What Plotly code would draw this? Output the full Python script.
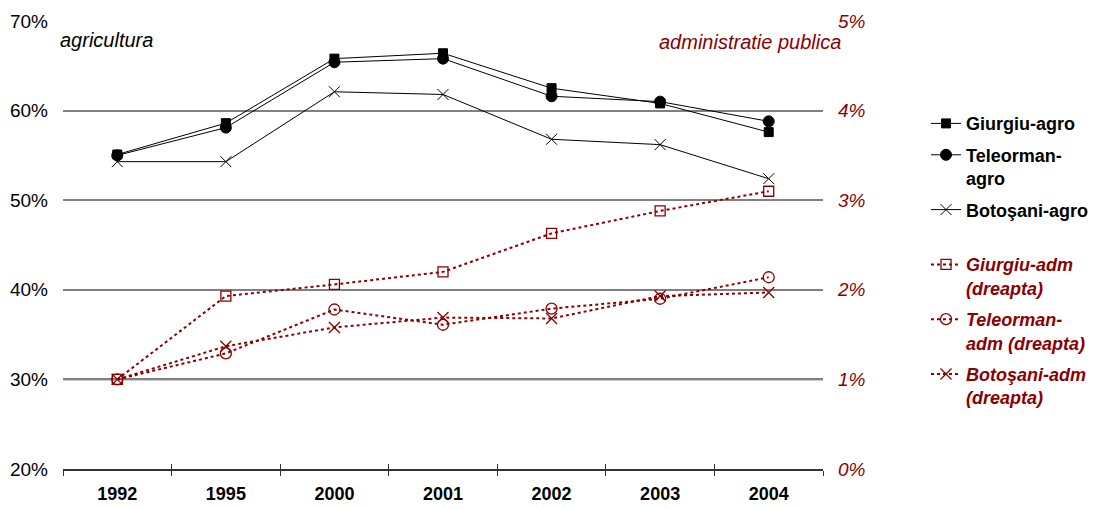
import plotly.graph_objects as go

years = ["1992", "1995", "2000", "2001", "2002", "2003", "2004"]

giurgiu_agro = [55.1, 58.6, 65.8, 66.4, 62.5, 60.8, 57.6]
teleorman_agro = [55.0, 58.1, 65.4, 65.8, 61.6, 61.0, 58.8]
botosani_agro = [54.3, 54.3, 62.1, 61.8, 56.8, 56.2, 52.4]

giurgiu_adm = [1.0, 1.93, 2.06, 2.20, 2.63, 2.88, 3.10]
teleorman_adm = [1.0, 1.29, 1.78, 1.61, 1.79, 1.90, 2.14]
botosani_adm = [1.0, 1.37, 1.58, 1.69, 1.68, 1.93, 1.97]

left_ticks = [20, 30, 40, 50, 60, 70]
left_labels = ["20%", "30%", "40%", "50%", "60%", "70%"]
right_ticks = [0, 1, 2, 3, 4, 5]
right_labels = ["0%", "1%", "2%", "3%", "4%", "5%"]

DR = "#8B0000"
FONT = "Liberation Sans, Arial, sans-serif"

fig = go.Figure()

agro = [
    ("<b>Giurgiu-agro</b>", giurgiu_agro, "square", 9, "g1"),
    ("<b>Teleorman-<br>agro</b>", teleorman_agro, "circle", 11, "g2"),
    ("<b>Botoşani-agro</b><br> ", botosani_agro, "x-thin-open", 11, "g3"),
]
for name, vals, sym, sz, grp in agro:
    fig.add_trace(go.Scatter(
        x=years, y=vals, name=name, mode="lines+markers", legendgroup=grp,
        line=dict(color="black", width=1),
        marker=dict(symbol=sym, size=sz, color="black", line=dict(color="black", width=1)),
        xaxis="x", yaxis="y",
    ))

adm = [
    ("Giurgiu-adm<br>(dreapta)", giurgiu_adm, "square-open", 10, "g4"),
    ("Teleorman-<br>adm (dreapta)", teleorman_adm, "circle-open", 11, "g5"),
    ("Botoşani-adm<br>(dreapta)", botosani_adm, "x-thin-open", 11, "g6"),
]
for name, vals, sym, sz, grp in adm:
    label = "<b><i><span style='color:%s'>%s</span></i></b>" % (
        DR, name.replace("<br>", "</span><br><span style='color:%s'>" % DR))
    fig.add_trace(go.Scatter(
        x=years, y=vals, name=label,
        mode="lines+markers", legendgroup=grp,
        line=dict(color=DR, width=2, dash="dot"),
        marker=dict(symbol=sym, size=sz, color=DR, line=dict(color=DR, width=1.3)),
        xaxis="x2", yaxis="y2",
    ))

# the page body adds an 8px offset, so the figure is 8px smaller and margins shifted
fig.update_layout(
    width=1090, height=501,
    margin=dict(l=55, r=275, t=13, b=40, autoexpand=False),
    paper_bgcolor="white", plot_bgcolor="white",
    font=dict(family=FONT, color="black", size=18),
    showlegend=True,
    legend=dict(
        xref="container", yref="container",
        x=0.8422, xanchor="left",
        y=0.806, yanchor="top",
        font=dict(size=18, family=FONT, color="black"),
        valign="top", tracegroupgap=5, maxheight=460,
        bgcolor="rgba(0,0,0,0)",
    ),
    xaxis=dict(
        type="category", categoryarray=years, categoryorder="array",
        showgrid=False, showline=True, linecolor="#333333", linewidth=1.5,
        ticks="outside", ticklen=5, tickcolor="#333333", tickwidth=1,
        tickson="boundaries",
        tickfont=dict(size=18, family=FONT, weight="bold"),
        ticklabelstandoff=8, automargin=False,
        range=[-0.5, 6.5], zeroline=False,
    ),
    xaxis2=dict(
        type="category", categoryarray=years, categoryorder="array",
        overlaying="x", anchor="y2", side="bottom",
        showgrid=False, showline=False, showticklabels=False,
        ticks="inside", ticklen=5, tickcolor="#333333", tickwidth=1,
        tickson="boundaries", range=[-0.5, 6.5], zeroline=False, automargin=False,
    ),
    yaxis=dict(
        range=[20, 70], tickmode="array", tickvals=left_ticks, ticktext=left_labels,
        showgrid=True, gridcolor="#808080", gridwidth=1.5,
        showline=False, ticks="", zeroline=False,
        tickfont=dict(size=19, family=FONT, color="black"),
        ticklabelstandoff=14, automargin=False,
    ),
    yaxis2=dict(
        range=[0, 5], tickmode="array", tickvals=right_ticks, ticktext=right_labels,
        overlaying="y", side="right", anchor="x2",
        showgrid=False, showline=False, ticks="", zeroline=False,
        tickfont=dict(size=19, family=FONT, color=DR, style="italic"),
        ticklabelstandoff=14, automargin=False,
    ),
    annotations=[
        dict(text="agricultura", xref="paper", yref="paper", x=-0.006, y=0.957,
             xanchor="left", yanchor="middle", showarrow=False,
             font=dict(size=20, family=FONT, color="black", style="italic")),
        dict(text="administratie publica", xref="paper", yref="paper", x=1.026, y=0.953,
             xanchor="right", yanchor="middle", showarrow=False,
             font=dict(size=20, family=FONT, color=DR, style="italic")),
    ],
    shapes=[
        dict(type="line", xref="paper", yref="y", x0=0, x1=1, y0=30, y1=30,
             line=dict(color="#404040", width=1.5), layer="below"),
    ],
)

fig.write_html("out.html")
